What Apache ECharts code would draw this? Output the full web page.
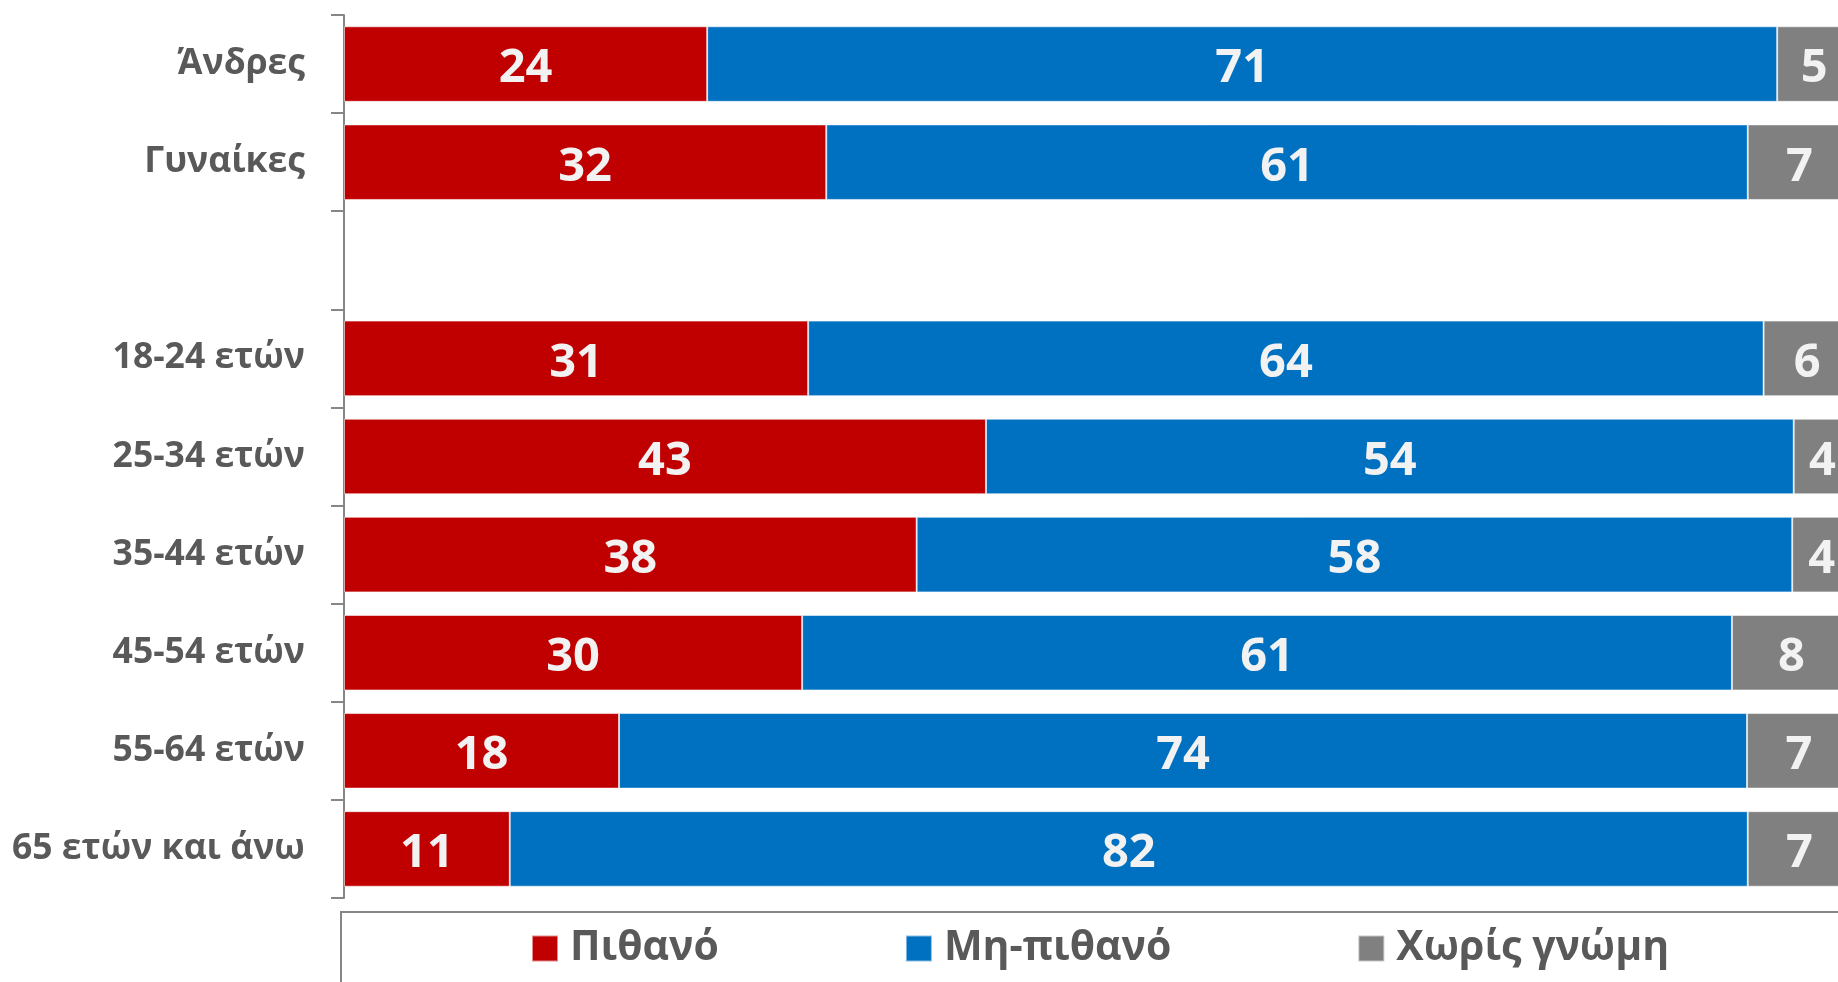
<!DOCTYPE html>
<html>
<head>
<meta charset="utf-8">
<script src="https://cdn.jsdelivr.net/npm/echarts@6/dist/echarts.min.js"></script>
<style>
  html, body { margin: 0; padding: 0; background: #fff; }
  #main { width: 1838px; height: 982px; }
</style>
</head>
<body>
<div id="main"></div>
<script>
// κατηγορίες (η κενή γραμμή είναι το κενό ανάμεσα στις ομάδες)
var categories = ['Άνδρες', 'Γυναίκες', '', '18-24 ετών', '25-34 ετών', '35-44 ετών', '45-54 ετών', '55-64 ετών', '65 ετών και άνω'];
var seriesNames = ['Πιθανό', 'Μη-πιθανό', 'Χωρίς γνώμη'];
// μήκη ράβδων (εκτίμηση από την εικόνα)
var pithano = [24.1, 32.0, '-', 30.8, 42.6, 38.0, 30.4, 18.25, 11.0];
var mhPithano = [71.0, 61.15, '-', 63.4, 53.6, 58.1, 61.7, 74.85, 82.15];
var xorisGnomi = [4.9, 6.85, '-', 5.8, 3.8, 3.9, 7.9, 6.9, 6.85];
// οι αριθμοί που γράφονται πάνω στις ράβδους
var labelsPithano = [24, 32, '', 31, 43, 38, 30, 18, 11];
var labelsMhPithano = [71, 61, '', 64, 54, 58, 61, 74, 82];
var labelsXoris = [5, 7, '', 6, 4, 4, 8, 7, 7];
var colors = ['#C00000', '#0070C0', '#808080'];

var font = '"Open Sans", "Noto Sans", sans-serif';

function makeSeries(name, data, labels, color) {
    return {
        name: name,
        type: 'bar',
        stack: 'total',
        barWidth: '77%',
        data: data,
        itemStyle: {
            color: color,
            borderColor: 'rgba(255,255,255,0.55)',
            borderWidth: 1
        },
        label: {
            show: true,
            position: 'inside',
            offset: [0, 5],
            color: '#f2f2f2',
            fontFamily: font,
            fontWeight: 'bold',
            fontSize: 47,
            formatter: function (p) {
                return labels[p.dataIndex];
            }
        }
    };
}

var myChart = echarts.init(document.getElementById('main'));
myChart.setOption({
    animation: false,
    color: colors,
    grid: {
        left: 344,
        top: 15,
        right: -13,
        bottom: 84,
        outerBoundsMode: 'none'
    },
    legend: {
        left: 531,
        top: 928,
        padding: 0,
        itemWidth: 26,
        itemHeight: 26,
        itemGap: 186,
        icon: 'rect',
        data: seriesNames,
        textStyle: {
            color: '#595959',
            fontFamily: font,
            fontWeight: 'bold',
            fontSize: 41,
            padding: [0, 0, 0, 7]
        }
    },
    xAxis: {
        type: 'value',
        min: 0,
        max: 100,
        show: false
    },
    yAxis: {
        type: 'category',
        inverse: true,
        data: categories,
        axisLine: {
            lineStyle: { color: '#868686', width: 2 }
        },
        axisTick: {
            show: true,
            length: 13,
            interval: 0,
            lineStyle: { color: '#868686', width: 2 }
        },
        axisLabel: {
            margin: 39,
            padding: [8, 0, 0, 0],
            color: '#595959',
            fontFamily: font,
            fontWeight: 'bold',
            fontSize: 35.5
        }
    },
    // πλαίσιο του υπομνήματος
    graphic: [{
        type: 'rect',
        silent: true,
        shape: { x: 341, y: 912, width: 1600, height: 200 },
        style: { fill: 'none', stroke: '#868686', lineWidth: 2 }
    }],
    series: [
        makeSeries(seriesNames[0], pithano, labelsPithano, colors[0]),
        makeSeries(seriesNames[1], mhPithano, labelsMhPithano, colors[1]),
        makeSeries(seriesNames[2], xorisGnomi, labelsXoris, colors[2])
    ]
});
</script>
</body>
</html>
